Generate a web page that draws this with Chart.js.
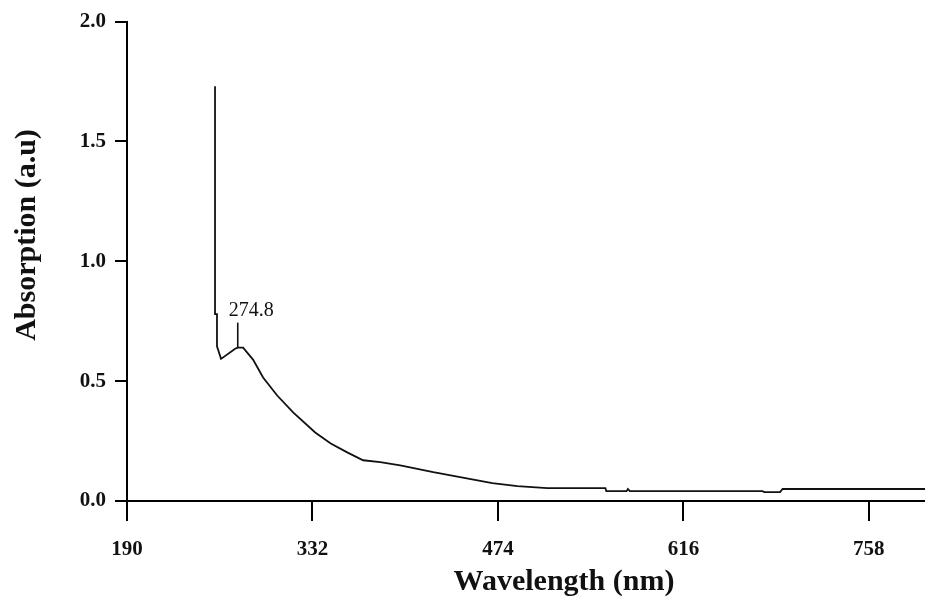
<!DOCTYPE html>
<html><head><meta charset="utf-8">
<script src="https://cdn.jsdelivr.net/npm/chart.js@4.4.1/dist/chart.umd.min.js"></script>
<style>html,body{margin:0;padding:0;background:#fff}#wrap{width:925px;height:611px}</style>
</head><body><div id="wrap"><canvas id="c" width="925" height="611"></canvas></div>
<script>
const wavelengths = [257.4, 257.4, 258.9, 258.9, 262.0, 272.8, 274.8, 278.9, 286.5, 294.2, 305.0, 317.2, 334.1, 346.0, 358.6, 370.8, 383.9, 399.2, 424.5, 469.7, 488.9, 511.8, 556.3, 557.0, 572.5, 573.5, 575.0, 676.6, 678.0, 690.0, 692.0, 801.0];
const absorption  = [1.73, 0.78, 0.78, 0.645, 0.593, 0.635, 0.64, 0.64, 0.59, 0.515, 0.44, 0.37, 0.286, 0.24, 0.203, 0.17, 0.162, 0.149, 0.12, 0.075, 0.062, 0.054, 0.054, 0.041, 0.041, 0.05, 0.041, 0.041, 0.037, 0.037, 0.05, 0.05];
const xTicks = [190, 332, 474, 616, 758];
const yTicks = [0, 0.5, 1.0, 1.5, 2.0];
const xTitle = 'Wavelength (nm)';
const yTitle = 'Absorption (a.u)';
const peakWavelength = 274.8;
const peakAbsorption = 0.64;
const peakLabel = '274.8';

const serif = "'Liberation Serif', 'DejaVu Serif', serif";

const extras = {
  id: 'extras',
  afterDatasetsDraw(chart) {
    const ctx = chart.ctx, xs = chart.scales.x, ys = chart.scales.y;
    const px = xs.getPixelForValue(peakWavelength);
    const py = ys.getPixelForValue(peakAbsorption);
    ctx.save();
    ctx.strokeStyle = '#111';
    ctx.lineWidth = 1.6;
    ctx.beginPath();
    ctx.moveTo(px, py);
    ctx.lineTo(px, py - 25);
    ctx.stroke();
    ctx.fillStyle = '#111';
    ctx.font = 'normal 20px ' + serif;
    ctx.textAlign = 'left';
    ctx.textBaseline = 'alphabetic';
    ctx.fillText(peakLabel, px - 9, py - 32);
    ctx.restore();
  },
  afterDraw(chart) {
    const ctx = chart.ctx;
    ctx.save();
    ctx.fillStyle = '#111';
    ctx.font = 'bold 30px ' + serif;
    ctx.textAlign = 'center';
    ctx.textBaseline = 'middle';
    ctx.fillText(xTitle, 564, 582);
    ctx.translate(27, 235);
    ctx.rotate(-Math.PI / 2);
    ctx.fillText(yTitle, 0, 0);
    ctx.restore();
  }
};

new Chart(document.getElementById('c'), {
  type: 'line',
  data: {
    datasets: [{
      data: wavelengths.map((x, i) => ({ x, y: absorption[i] })),
      borderColor: '#111',
      borderWidth: 1.8,
      pointRadius: 0,
      tension: 0,
      fill: false
    }]
  },
  options: {
    responsive: false,
    animation: false,
    layout: { padding: { top: 19, right: 0, left: 0, bottom: 0 } },
    plugins: { legend: { display: false }, tooltip: { enabled: false } },
    scales: {
      x: {
        type: 'linear', min: 190, max: 801,
        afterBuildTicks: s => { s.ticks = xTicks.map(v => ({ value: v })); },
        afterFit: s => { s.height = 110; },
        border: { display: true, color: '#000', width: 2 },
        grid: { display: true, drawOnChartArea: false, drawTicks: true, tickLength: 20, color: '#000', lineWidth: 2 },
        ticks: { color: '#111', font: { family: serif, size: 21, weight: 'bold' }, padding: 16, maxRotation: 0, autoSkip: false, callback: v => String(v) }
      },
      y: {
        min: 0, max: 2,
        afterBuildTicks: s => { s.ticks = yTicks.map(v => ({ value: v })); },
        afterFit: s => { s.width = 127; },
        border: { display: true, color: '#000', width: 2 },
        grid: { display: true, drawOnChartArea: false, drawTicks: true, tickLength: 12, color: '#000', lineWidth: 2 },
        ticks: { color: '#111', font: { family: serif, size: 21, weight: 'bold' }, padding: 9, callback: v => Number(v).toFixed(1) }
      }
    }
  },
  plugins: [extras]
});
</script></body></html>
